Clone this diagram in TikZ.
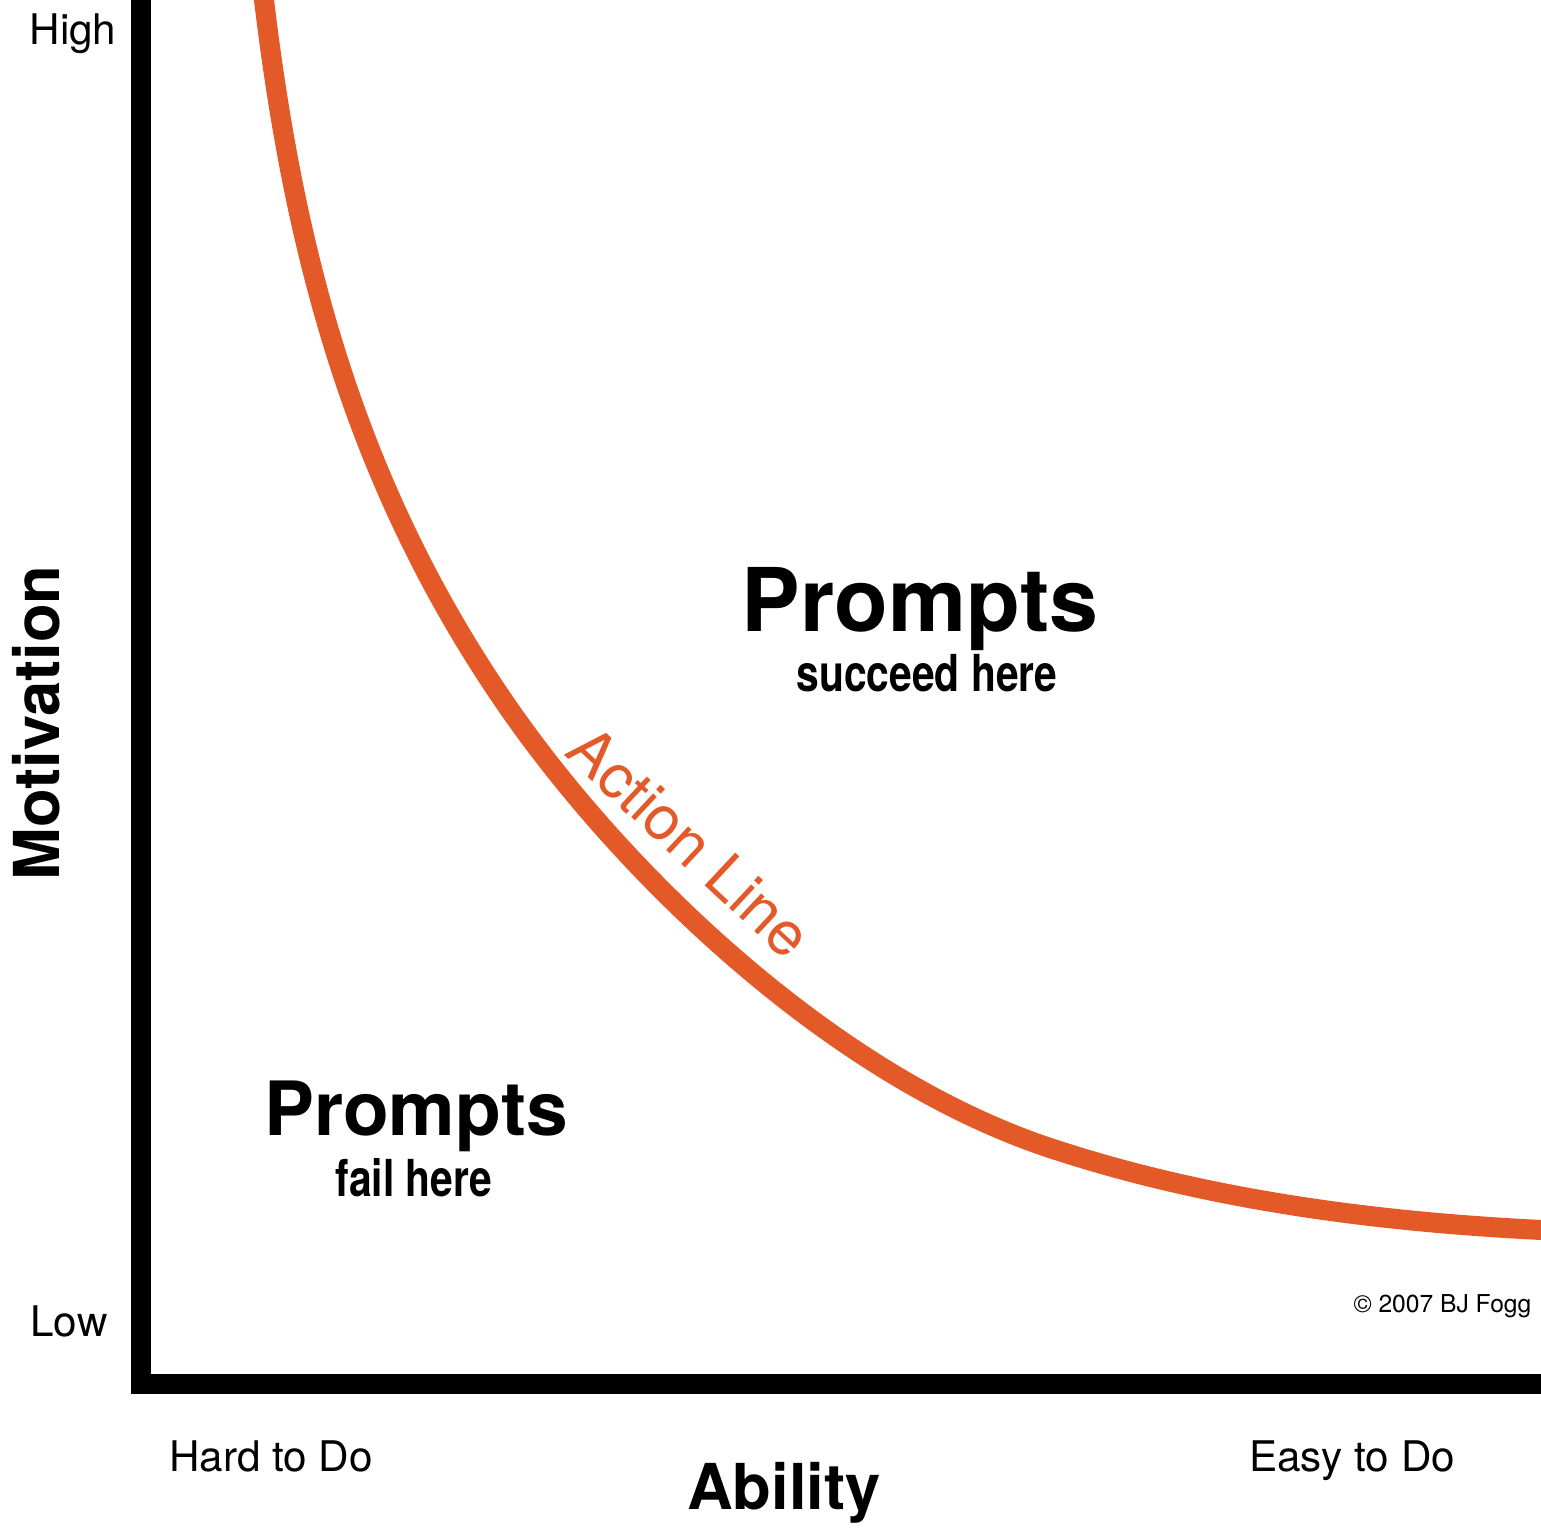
\documentclass[tikz,border=0pt]{standalone}
\usepackage{fontspec}
\setmainfont{TeX Gyre Heros}
\newfontfamily\condfont{TeX Gyre Heros}[FakeStretch=0.8]
\definecolor{actionorange}{RGB}{227,90,40}
\begin{document}
\begin{tikzpicture}[x=0.01cm,y=-0.01cm,
  axisline/.style={line width=0.2cm,line join=miter,line cap=butt},
  curveline/.style={line width=0.2cm,actionorange,line cap=butt},
  ticklabel/.style={inner sep=0pt,anchor=base,font=\fontsize{12}{14}\selectfont},
  axistitle/.style={inner sep=0pt,anchor=base,font=\fontsize{18}{21}\selectfont\bfseries},
  regiontitle/.style={inner sep=0pt,anchor=base,font=\bfseries},
  regionnote/.style={inner sep=0pt,anchor=base,font=\fontsize{14.5}{17}\selectfont\condfont\bfseries}]
  \useasboundingbox (0,0) rectangle (1541,1528);

  % axes
  \draw[axisline] (141,0) |- (1541,1384);

  % action line: three cubic pieces with matching tangents
  \begin{scope}
    \clip (0,0) rectangle (1541,1528);
    \coordinate (c0) at (264,0);
    \coordinate (c1) at (503,700);
    \coordinate (c2) at (1050,1148);
    \coordinate (c3) at (1541,1230);
    \draw[curveline] (261.6,-20) -- (c0)
      .. controls (294,250) and (353,480) .. (c1)
      .. controls (619,870) and (830,1075) .. (c2)
      .. controls (1210,1201) and (1381,1222) .. (c3) -- (1561,1230);
  \end{scope}
  \node[inner sep=0pt,rotate=-43,text=actionorange,font=\fontsize{17.5}{20}\selectfont]
    (actionlabel) at (690,842) {Action Line};

  % axis labels
  \node[ticklabel] (high) at (73,45) {High};
  \node[ticklabel] (low) at (69,1337) {Low};
  \node[ticklabel] (hard) at (271,1472) {Hard to Do};
  \node[ticklabel] (easy) at (1352,1472) {Easy to Do};
  \node[axistitle] (ability) at (784,1510) {Ability};
  \node[axistitle,rotate=90] (motivation) at (60,723) {Motivation};

  % region labels
  \node[regiontitle,font=\fontsize{25}{29}\selectfont\bfseries] (succeedtitle) at (920,632) {Prompts};
  \node[regionnote] (succeednote) at (927,692) {succeed here};
  \node[regiontitle,font=\fontsize{21.3}{25}\selectfont\bfseries] (failtitle) at (416,1136) {Prompts};
  \node[regionnote] (failnote) at (414,1197) {fail here};

  % credit
  \node[inner sep=0pt,anchor=base east,font=\fontsize{7}{8}\selectfont] (credit) at (1532,1313) {© 2007 BJ Fogg};
\end{tikzpicture}
\end{document}
